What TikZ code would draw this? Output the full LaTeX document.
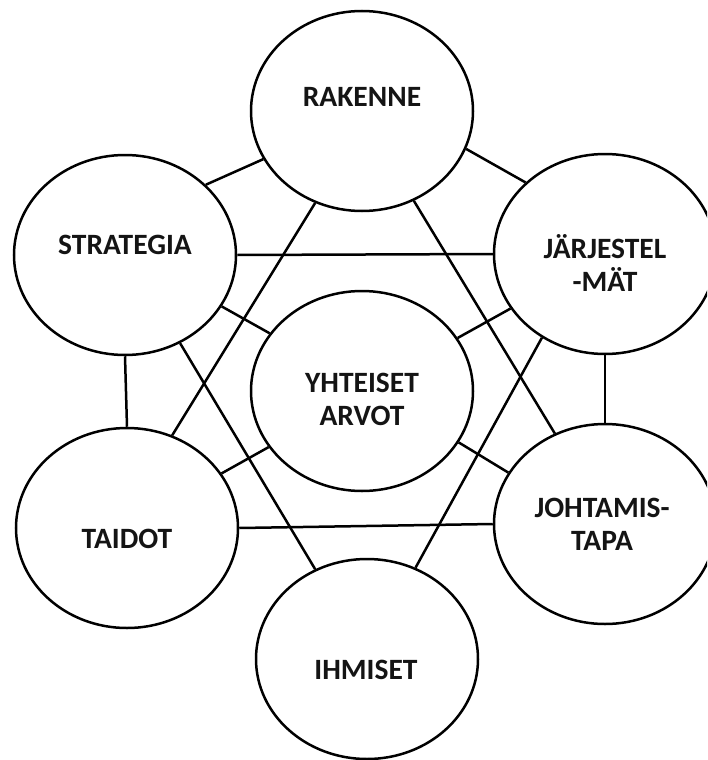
\documentclass[tikz,border=0pt]{standalone}
\usepackage{fontspec}
\setmainfont{Carlito}
\usetikzlibrary{shapes.geometric}
\begin{document}
\begin{tikzpicture}[x=1pt,y=-1pt,
  oval/.style={draw=black, line width=2.5pt, ellipse, minimum width=222pt, minimum height=200pt, inner sep=0pt},
  lbl/.style={font=\fontsize{29.5}{33}\selectfont\bfseries, align=center, inner sep=0pt, text=black!92},
  link/.style={draw=black, line width=2.5pt}]
\useasboundingbox (0,0) rectangle (707,760);
\clip (0,0) rectangle (707,760);
% circles
\node[oval] (rak) at (362,111) {};
\node[oval] (str) at (125,255) {};
\node[oval] (jar) at (605,254) {};
\node[oval] (yht) at (362,391) {};
\node[oval] (tai) at (127,528) {};
\node[oval] (joh) at (605,524) {};
\node[oval] (ihm) at (367,659) {};
% labels
\node[lbl] (trak) at (362,97) {RAKENNE};
\node[lbl] (tstr) at (125,245) {STRATEGIA};
\node[lbl] (tjar) at (605,263) {JÄRJESTEL\\-MÄT};
\node[lbl] (tyht) at (362,399) {YHTEISET\\ARVOT};
\node[lbl] (ttai) at (127,539) {TAIDOT};
\node[lbl] (tjoh) at (602,524) {JOHTAMIS-\\TAPA};
\node[lbl] (tihm) at (366,670) {IHMISET};
% connectors
\draw[link] (str.41) -- (rak.206);
\draw[link] (rak.340) -- (jar.138);
\draw[link] (str.0) -- (jar.180);
\draw[link] (rak.243) -- (tai.64);
\draw[link] (rak.300) -- (joh.119);
\draw[link] (str.332) -- (yht.148);
\draw[link] (str.302) -- (ihm.120);
\draw[link] (str.270) -- (tai.90);
\draw[link] (jar.210) -- (yht.29);
\draw[link] (jar.233) -- (ihm.62);
\draw[link] (jar.270) -- (joh.90);
\draw[link] (yht.211) -- (tai.30);
\draw[link] (yht.332) -- (joh.152);
\draw[link] (tai.0) -- (joh.180);
\end{tikzpicture}
\end{document}
